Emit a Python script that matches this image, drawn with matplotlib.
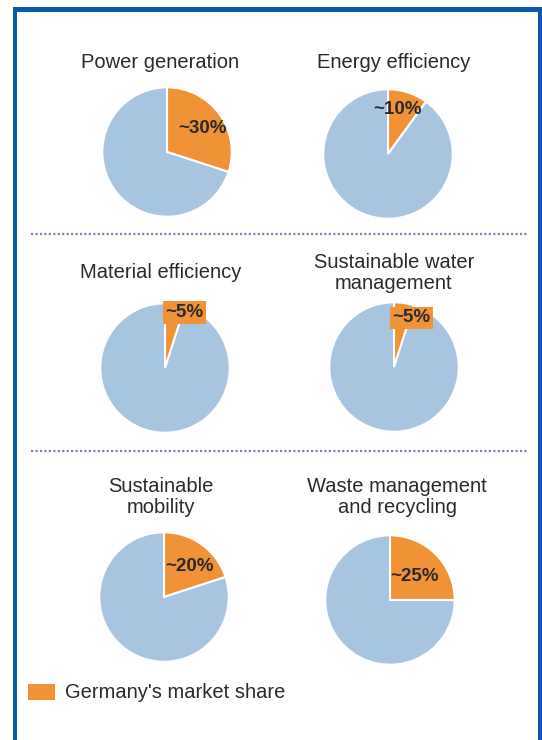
import matplotlib.pyplot as plt
from matplotlib.patches import Rectangle, Patch
from matplotlib.lines import Line2D

plt.rcParams['font.family'] = ['Liberation Sans', 'DejaVu Sans']

# market share of each sector (percent)
sectors = ["Power generation", "Energy efficiency", "Material efficiency",
           "Sustainable water\nmanagement", "Sustainable\nmobility",
           "Waste management\nand recycling"]
shares = [30, 10, 5, 5, 20, 25]
legend_label = "Germany's market share"

orange = '#f29236'
blue = '#a7c4e1'
frame_blue = '#0b5aa9'
text_col = '#2a2a2a'

W, H = 542, 740
fig = plt.figure(figsize=(W / 100, H / 100), dpi=100)
fig.patch.set_facecolor('white')

def fx(x):
    return x / W

def fy(y):
    return 1 - y / H

# pie centres in pixels, radius, title block centres, label offsets (unit radius)
centres = [(167, 152), (388, 154), (165, 368), (394, 367), (164, 597), (390, 600)]
R = 66
title_pos = [(160, 62), (394, 62), (161, 272), (394, 273), (161, 497), (397, 497)]
label_xy = [(0.55, 0.36), (0.15, 0.69), (0.30, 0.86), (0.27, 0.76), (0.39, 0.47), (0.38, 0.36)]

for i, share in enumerate(shares):
    cx, cy = centres[i]
    ax = fig.add_axes([fx(cx - R), fy(cy + R), 2 * R / W, 2 * R / H])
    ax.pie([share, 100 - share], colors=[orange, blue], startangle=90,
           counterclock=False, radius=1,
           wedgeprops=dict(edgecolor='white', linewidth=1.5))
    ax.set_xlim(-1.02, 1.02)
    ax.set_ylim(-1.02, 1.02)
    ax.set_aspect('equal')
    ax.axis('off')
    lx, ly = label_xy[i]
    box = None
    if share <= 5:
        box = dict(boxstyle='square,pad=0.15', fc=orange, ec='none')
    ax.text(lx, ly, '~%d%%' % share, ha='center', va='center',
            fontsize=13.5, fontweight='bold', color=text_col, bbox=box,
            clip_on=False)
    tx, ty = title_pos[i]
    fig.text(fx(tx), fy(ty), sectors[i], ha='center', va='center',
             fontsize=14.5, color=text_col, linespacing=1.12)

# dotted separators between rows
for y in (234, 451):
    fig.add_artist(Line2D([fx(31), fx(527)], [fy(y), fy(y)], color='#7580b8',
                          linestyle=(0, (1, 1)), linewidth=1.6))

# blue frame round the panel
for x0, y0, x1, y1 in [(12.7, 7.3, 16.7, 740), (12.7, 7.3, 542, 11.7),
                       (537.7, 7.3, 542, 740)]:
    fig.add_artist(Rectangle((fx(x0), fy(y1)), (x1 - x0) / W, (y1 - y0) / H,
                             transform=fig.transFigure, fc=frame_blue, ec='none'))

fs = 14.5
px = fs * 100 / 72
fig.legend(handles=[Patch(fc=orange, ec='none', label=legend_label)],
           loc='center left', bbox_to_anchor=(fx(28), fy(693)), frameon=False,
           fontsize=fs, handlelength=27 / px, handleheight=17 / px,
           handletextpad=10 / px, borderpad=0, borderaxespad=0,
           labelcolor=text_col)

fig.savefig('out.png', dpi=100, facecolor='white')
